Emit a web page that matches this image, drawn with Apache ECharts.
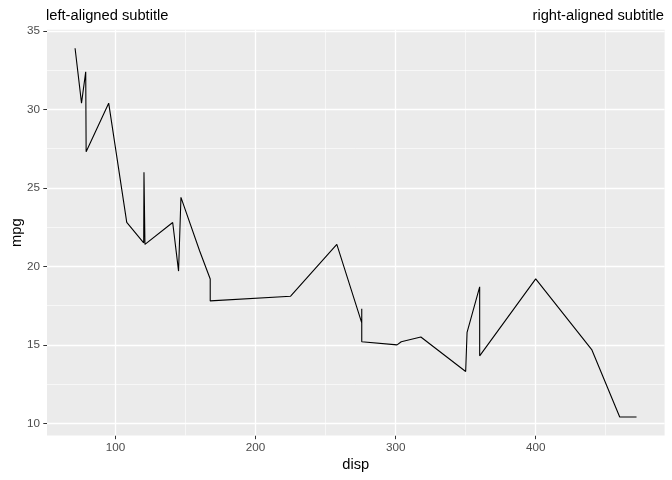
<!DOCTYPE html>
<html>
<head>
<meta charset="utf-8">
<script src="https://cdn.jsdelivr.net/npm/echarts@6/dist/echarts.min.js"></script>
<style>html,body{margin:0;padding:0;background:#fff}#c{width:672px;height:480px}</style>
</head>
<body>
<div id="c"></div>
<script>
// mtcars, sorted by disp (ties in data order)
const disp = [71.1, 75.7, 78.7, 79.0, 95.1, 108, 120.1, 120.3, 121, 140.8, 145, 146.7, 160, 160, 167.6, 167.6, 225, 258, 275.8, 275.8, 275.8, 301, 304, 318, 350, 351, 360, 360, 400, 440, 460, 472];
const mpg  = [33.9, 30.4, 32.4, 27.3, 30.4, 22.8, 21.5, 26.0, 21.4, 22.8, 19.7, 24.4, 21.0, 21.0, 19.2, 17.8, 18.1, 21.4, 16.4, 17.3, 15.2, 15.0, 15.2, 15.5, 13.3, 15.8, 18.7, 14.3, 19.2, 14.7, 10.4, 10.4];
const xTicks = [100, 200, 300, 400];
const yTicks = [10, 15, 20, 25, 30, 35];
const xMinor = [50, 150, 250, 350, 450];
const yMinor = [12.5, 17.5, 22.5, 27.5, 32.5];

const xMin = 51.055, xMax = 492.045, yMin = 9.225, yMax = 35.075;
const font = 'Liberation Sans, Arial, sans-serif';
const points = disp.map((d, i) => [d, mpg[i]]);

const major = {color: '#FFFFFF', width: 1.3, type: 'solid'};
const minor = {color: '#FFFFFF', width: 0.6, type: 'solid'};
const gridLines = [].concat(
  xMinor.map(v => ({xAxis: v, lineStyle: minor})),
  yMinor.map(v => ({yAxis: v, lineStyle: minor})),
  xTicks.map(v => ({xAxis: v, lineStyle: major})),
  yTicks.map(v => ({yAxis: v, lineStyle: major}))
);

const chart = echarts.init(document.getElementById('c'), null, {renderer: 'canvas'});
chart.setOption({
  animation: false,
  backgroundColor: '#FFFFFF',
  title: [
    {text: 'left-aligned subtitle', left: 46, top: 8, padding: 0,
     textStyle: {fontFamily: font, fontSize: 14.7, fontWeight: 'normal', color: '#000'}},
    {text: 'right-aligned subtitle', right: 8, top: 8, padding: 0,
     textStyle: {fontFamily: font, fontSize: 14.7, fontWeight: 'normal', color: '#000'}}
  ],
  grid: {left: 47, right: 7.4, top: 29.8, bottom: 44.5, show: true,
         backgroundColor: '#EBEBEB', borderWidth: 0, containLabel: false,
         outerBoundsMode: 'none'},
  xAxis: {
    type: 'value', min: xMin, max: xMax,
    name: 'disp', nameLocation: 'middle', nameGap: 22, nameMoveOverlap: false,
    nameTextStyle: {fontFamily: font, fontSize: 14.7, color: '#000'},
    axisLine: {show: false},
    splitLine: {show: false},
    axisTick: {show: true, length: 3.7, customValues: xTicks, lineStyle: {color: '#333333', width: 1}},
    axisLabel: {customValues: xTicks, margin: 6.5, fontFamily: font, fontSize: 11.7, color: '#4D4D4D'}
  },
  yAxis: {
    type: 'value', min: yMin, max: yMax,
    name: 'mpg', nameLocation: 'middle', nameGap: 23, nameRotate: 90, nameMoveOverlap: false,
    nameTextStyle: {fontFamily: font, fontSize: 14.7, color: '#000'},
    axisLine: {show: false},
    splitLine: {show: false},
    axisTick: {show: true, length: 3.7, customValues: yTicks, lineStyle: {color: '#333333', width: 1}},
    axisLabel: {customValues: yTicks, margin: 7, fontFamily: font, fontSize: 11.7, color: '#4D4D4D'}
  },
  series: [
    {type: 'line', data: points, z: 1, showSymbol: false, silent: true,
     lineStyle: {opacity: 0},
     markLine: {silent: true, z: 1, symbol: ['none', 'none'], label: {show: false},
                emphasis: {disabled: true}, animation: false, data: gridLines}},
    {type: 'line', data: points, z: 10, showSymbol: false, silent: true,
     lineStyle: {color: '#000000', width: 1.1}}
  ]
});
</script>
</body>
</html>
